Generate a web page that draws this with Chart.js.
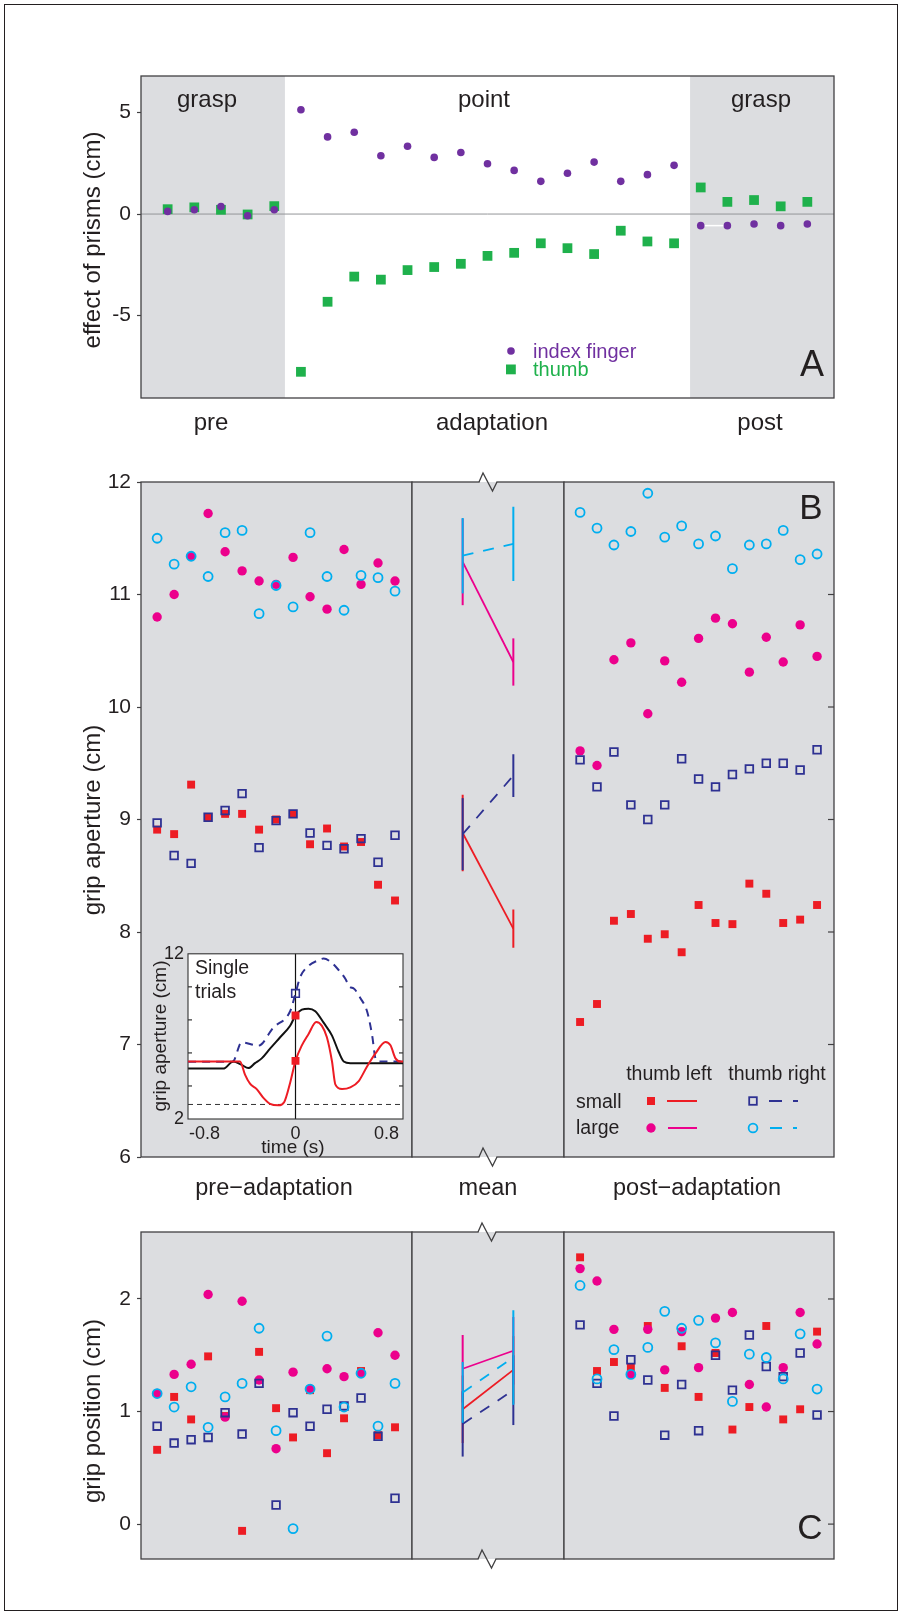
<!DOCTYPE html>
<html><head><meta charset="utf-8">
<script src="https://cdn.jsdelivr.net/npm/chart.js@4.4.1/dist/chart.umd.min.js"></script>
<style>
html,body{margin:0;padding:0;background:#fff;}
body{width:901px;height:1614px;position:relative;overflow:hidden;font-family:"Liberation Sans",Arial,Helvetica,sans-serif;color:#231f20;}
canvas{position:absolute;}
.t{position:absolute;white-space:nowrap;transform:translate(-50%,-50%);line-height:1;}
.tl{position:absolute;white-space:nowrap;transform:translate(0,-50%);line-height:1;}
svg{position:absolute;left:0;top:0;}
</style></head><body>
<script>
// ---------- DATA ----------
// Panel A: 5 pre (grasp), 15 adaptation (point), 5 post (grasp) trials
const aIndexFinger = [0.13,0.21,0.37,-0.08,0.21, 5.14,3.80,4.03,2.87,3.34,2.79,3.03,2.48,2.15,1.61,2.01,2.56,1.61,1.94,2.40, -0.57,-0.57,-0.49,-0.57,-0.49];
const aThumb = [0.24,0.33,0.21,-0.02,0.39, -7.77,-4.32,-3.08,-3.23,-2.76,-2.61,-2.45,-2.06,-1.91,-1.44,-1.68,-1.97,-0.82,-1.35,-1.44, 1.31,0.60,0.69,0.38,0.60];
const aTicks = [-5,0,5];

// Panel B: grip aperture (cm)
const bPreSmallLeft  = [8.91,8.87,9.31,9.02,9.05,9.05,8.91,9.00,9.05,8.78,8.92,8.76,8.80,8.42,8.28];
const bPreSmallRight = [8.97,8.68,8.61,9.02,9.08,9.23,8.75,8.99,9.05,8.88,8.77,8.74,8.83,8.62,8.86];
const bPreLargeLeft  = [10.80,11.00,11.34,11.72,11.38,11.21,11.12,11.09,11.33,10.98,10.87,11.40,11.09,11.28,11.12];
const bPreLargeRight = [11.50,11.27,11.34,11.16,11.55,11.57,10.83,11.08,10.89,11.55,11.16,10.86,11.17,11.15,11.03];
const bPostSmallLeft  = [7.20,7.36,8.10,8.16,7.94,7.98,7.82,8.24,8.08,8.07,8.43,8.34,8.08,8.11,8.24];
const bPostSmallRight = [9.53,9.29,9.60,9.13,9.00,9.13,9.54,9.36,9.29,9.40,9.45,9.50,9.50,9.44,9.62];
const bPostLargeLeft  = [9.61,9.48,10.42,10.57,9.94,10.41,10.22,10.61,10.79,10.74,10.31,10.62,10.40,10.73,10.45];
const bPostLargeRight = [11.73,11.59,11.44,11.56,11.90,11.51,11.61,11.45,11.52,11.23,11.44,11.45,11.57,11.31,11.36];
// means [pre, post] and error half-lengths
const bMeanSmallLeft  = [8.88, 8.03],   bErrSmallLeft  = [0.34, 0.17];
const bMeanSmallRight = [8.87, 9.39],   bErrSmallRight = [0.32, 0.19];
const bMeanLargeLeft  = [11.29, 10.40], bErrLargeLeft  = [0.385, 0.21];
const bMeanLargeRight = [11.345, 11.45],bErrLargeRight = [0.335, 0.33];
const bTicks = [6,7,8,9,10,11,12];

// Inset: single trials
const insetDashedT = [-0.944,-0.553,-0.474,-0.326,-0.194,-0.047,0,0.041,0.115,0.188,0.247,0.306,0.379,0.438,0.476,0.512,0.571,0.629,0.674,0.703,0.732,0.947];
const insetDashedV = [5.46,5.46,6.64,6.44,7.54,8.52,9.6,10.59,11.27,11.57,11.71,11.53,11.02,10.49,10.0,9.9,9.31,8.52,7.05,5.67,5.48,5.48];
const insetBlackT = [-0.944,-0.635,-0.547,-0.474,-0.415,-0.356,-0.297,-0.224,-0.135,-0.047,0,0.056,0.115,0.174,0.247,0.321,0.379,0.424,0.482,0.947];
const insetBlackV = [5.05,5.05,5.48,5.28,5.08,5.38,5.67,6.26,6.95,7.64,8.27,8.62,8.68,8.52,7.83,7.05,6.07,5.48,5.38,5.38];
const insetRedT = [-0.944,-0.488,-0.444,-0.4,-0.341,-0.282,-0.224,-0.15,-0.1,-0.047,0,0.056,0.115,0.182,0.232,0.276,0.321,0.35,0.409,0.482,0.556,0.629,0.703,0.791,0.835,0.879,0.924,0.947];
const insetRedV = [5.48,5.48,4.69,4.14,3.81,3.28,2.92,2.83,3.02,4.2,5.52,6.46,7.15,7.87,7.64,6.95,5.48,4.1,3.81,3.91,4.3,5.18,5.97,6.66,6.46,5.67,5.48,5.48];
const insetMarkRight = [9.6];
const insetMarkLeft = [8.27, 5.52];
const insetYTicks = [2,12];
const insetXTicks = [-0.8,0,0.8];

// Panel C: grip position (cm)
const cPreSmallLeft  = [0.66,1.13,0.93,1.49,0.96,-0.06,1.53,1.03,0.77,1.19,0.63,0.94,1.36,0.79,0.86];
const cPreSmallRight = [0.87,0.72,0.75,0.77,0.99,0.80,1.25,0.17,0.99,0.87,1.02,1.05,1.12,0.78,0.23];
const cPreLargeLeft  = [1.16,1.33,1.42,2.04,0.95,1.98,1.28,0.67,1.35,1.20,1.38,1.31,1.34,1.70,1.50];
const cPreLargeRight = [1.16,1.04,1.22,0.86,1.13,1.25,1.74,0.83,-0.04,1.20,1.67,1.04,1.34,0.87,1.25];
const cPostSmallLeft  = [2.37,1.36,1.44,1.39,1.76,1.21,1.58,1.13,1.52,0.84,1.04,1.76,0.93,1.02,1.71];
const cPostSmallRight = [1.77,1.25,0.96,1.46,1.28,0.79,1.24,0.83,1.50,1.19,1.68,1.40,1.31,1.52,0.97];
const cPostLargeLeft  = [2.27,2.16,1.73,1.33,1.73,1.37,1.71,1.39,1.83,1.88,1.24,1.04,1.39,1.88,1.60];
const cPostLargeRight = [2.12,1.29,1.55,1.33,1.57,1.89,1.74,1.81,1.61,1.09,1.51,1.48,1.29,1.69,1.20];
const cMeanSmallLeft  = [1.02, 1.37], cErrSmallLeft  = [0.30, 0.30];
const cMeanSmallRight = [0.89, 1.19], cErrSmallRight = [0.29, 0.31];
const cMeanLargeLeft  = [1.38, 1.54], cErrLargeLeft  = [0.30, 0.30];
const cMeanLargeRight = [1.17, 1.48], cErrLargeRight = [0.27, 0.42];
const cTicks = [0,1,2];

// ---------- STYLE ----------
const GRAY='#dcdde0', FRAME='#414042', TXT='#231f20';
const PURPLE='#7030a0', GREEN='#1fb14c', RED='#ed1c24', MAGENTA='#ec008c', CYAN='#00aeef', NAVY='#2e3192';
const FONT='"Liberation Sans", Arial, Helvetica, sans-serif';
Chart.defaults.font.family = FONT;
Chart.defaults.color = TXT;

const deco = {
  id:'deco',
  beforeDatasetsDraw(chart, args, o){
    const {ctx, chartArea:a, scales} = chart;
    ctx.save();
    (o.fills||[]).forEach(f=>{
      const x0 = f.x0==null ? a.left : scales.x.getPixelForValue(f.x0);
      const x1 = f.x1==null ? a.right : scales.x.getPixelForValue(f.x1);
      ctx.fillStyle=f.color; ctx.fillRect(x0,a.top,x1-x0,a.bottom-a.top);
    });
    (o.hlines||[]).forEach(h=>{
      const y=scales.y.getPixelForValue(h.y);
      ctx.beginPath(); ctx.setLineDash(h.dash||[]); ctx.strokeStyle=h.color; ctx.lineWidth=h.width;
      ctx.moveTo(a.left,y); ctx.lineTo(a.right,y); ctx.stroke();
    });
    (o.vlines||[]).forEach(h=>{
      const x=scales.x.getPixelForValue(h.x);
      ctx.beginPath(); ctx.setLineDash(h.dash||[]); ctx.strokeStyle=h.color; ctx.lineWidth=h.width;
      ctx.moveTo(x,a.top); ctx.lineTo(x,a.bottom); ctx.stroke();
    });
    ctx.setLineDash([]);
    if(o.frame){ ctx.strokeStyle=o.frame.color; ctx.lineWidth=o.frame.width; ctx.strokeRect(a.left,a.top,a.right-a.left,a.bottom-a.top); }
    const len=o.tickLen||6;
    ctx.strokeStyle=o.tickColor||FRAME; ctx.lineWidth=1.2;
    (o.ticksR||[]).forEach(v=>{const y=scales.y.getPixelForValue(v);ctx.beginPath();ctx.moveTo(a.right-len,y);ctx.lineTo(a.right,y);ctx.stroke();});
    (o.ticksL||[]).forEach(v=>{const y=scales.y.getPixelForValue(v);ctx.beginPath();ctx.moveTo(a.left,y);ctx.lineTo(a.left+len,y);ctx.stroke();});
    ctx.restore();
  }
};
Chart.register(deco);

function place(l,t,r,b,pad){
  const c=document.createElement('canvas');
  const w=Math.round(r-l+pad[0]+pad[2]), h=Math.round(b-t+pad[1]+pad[3]);
  c.width=w; c.height=h;
  c.style.left=(l-pad[0])+'px'; c.style.top=(t-pad[1])+'px';
  c.style.width=w+'px'; c.style.height=h+'px';
  document.body.appendChild(c);
  return c;
}
function yAxis(min,max,ticks,width,show,size,opts){
  opts=opts||{};
  return {type:'linear',min,max,display:show,
    afterFit:s=>{s.width=width;},
    afterBuildTicks:s=>{s.ticks=ticks.map(v=>({value:v}));},
    grid:{drawOnChartArea:false,drawTicks:opts.noTicks?false:true,tickLength:4,tickColor:FRAME,tickWidth:1.2},
    border:{display:false},
    ticks:{padding:opts.pad||6,font:{size},color:TXT}};
}
function xHidden(min,max){return {type:'linear',min,max,display:false};}
const xIdx=arr=>arr.map((v,i)=>({x:i,y:v}));
const baseOpts=(pad,scales,decoOpts)=>({
  responsive:false,animation:false,devicePixelRatio:1,events:[],
  layout:{padding:{left:pad[0],top:pad[1],right:pad[2],bottom:pad[3]}},
  plugins:{legend:{display:false},tooltip:{enabled:false},deco:decoOpts},
  scales});

function scatterSets(sl,sr,ll,lr){
  return [
    {data:xIdx(lr),pointStyle:'circle',pointRadius:4.5,pointBorderWidth:1.8,pointBorderColor:CYAN,pointBackgroundColor:'rgba(0,0,0,0)'},
    {data:xIdx(sr),pointStyle:'rect',pointRadius:5.4,pointBorderWidth:1.8,pointBorderColor:NAVY,pointBackgroundColor:'rgba(0,0,0,0)'},
    {data:xIdx(ll),pointStyle:'circle',pointRadius:4.7,pointBorderWidth:0,pointBackgroundColor:MAGENTA},
    {data:xIdx(sl),pointStyle:'rect',pointRadius:5.6,pointBorderWidth:0,pointBackgroundColor:RED}
  ];
}
function meanSets(mean,err,color,dash){
  const line={showLine:true,pointRadius:0,borderColor:color,borderWidth:1.8};
  return [
    Object.assign({data:[{x:1,y:mean[0]-err[0]},{x:1,y:mean[0]+err[0]}]},line,{borderWidth:2}),
    Object.assign({data:[{x:2,y:mean[1]-err[1]},{x:2,y:mean[1]+err[1]}]},line,{borderWidth:2}),
    Object.assign({data:[{x:1,y:mean[0]},{x:2,y:mean[1]}],borderDash:dash},line)
  ];
}

// ---------- PANEL A ----------
new Chart(place(141,76,834,398,[81,20,20,20]),{
  type:'scatter',
  data:{datasets:[
    {label:'index finger',data:xIdx(aIndexFinger),pointStyle:'circle',pointRadius:3.8,pointBorderWidth:0,pointBackgroundColor:PURPLE},
    {label:'link',data:xIdx(aIndexFinger).slice(20,22),showLine:true,pointRadius:0,borderColor:'#ffffff',borderWidth:1.5},
    {label:'thumb',data:xIdx(aThumb),pointStyle:'rect',pointRadius:6.9,pointBorderWidth:0,pointBackgroundColor:GREEN}
  ]},
  options:baseOpts([0,20,20,20],{x:xHidden(-1,25),y:yAxis(-9.06,6.8,aTicks,81,true,21)},
    {fills:[{x0:null,x1:4.4,color:GRAY},{x0:19.6,x1:null,color:GRAY}],hlines:[{y:0,color:'#939598',width:1}],frame:{color:FRAME,width:1.3}})
});

// ---------- PANEL B ----------
const BT=482, BB=1157;
new Chart(place(141,BT,412,BB,[81,20,10,20]),{
  type:'scatter',
  data:{datasets:scatterSets(bPreSmallLeft,bPreSmallRight,bPreLargeLeft,bPreLargeRight)},
  options:baseOpts([0,20,10,20],{x:xHidden(-0.95,15),y:yAxis(6,12,bTicks,81,true,21)},
    {fills:[{color:GRAY}],frame:{color:FRAME,width:1.3}})
});
new Chart(place(412,BT,564,BB,[10,20,10,20]),{
  type:'scatter',
  data:{datasets:[].concat(
    meanSets(bMeanLargeRight,bErrLargeRight,CYAN,[11,10]),
    meanSets(bMeanSmallRight,bErrSmallRight,NAVY,[11,10]),
    meanSets(bMeanLargeLeft,bErrLargeLeft,MAGENTA,[]),
    meanSets(bMeanSmallLeft,bErrSmallLeft,RED,[]))},
  options:baseOpts([10,20,10,20],{x:xHidden(0,3),y:{type:'linear',min:6,max:12,display:false}},
    {fills:[{color:GRAY}],frame:{color:FRAME,width:1.3}})
});
new Chart(place(564,BT,834,BB,[10,20,20,20]),{
  type:'scatter',
  data:{datasets:scatterSets(bPostSmallLeft,bPostSmallRight,bPostLargeLeft,bPostLargeRight)},
  options:baseOpts([10,20,20,20],{x:xHidden(-0.95,15),y:{type:'linear',min:6,max:12,display:false}},
    {fills:[{color:GRAY}],frame:{color:FRAME,width:1.3},ticksR:[7,8,9,10,11],tickLen:6})
});

// ---------- INSET ----------
const pts=(t,v)=>t.map((x,i)=>({x,y:v[i]}));
new Chart(place(188,949,403,1119,[40,10,10,30]),{
  type:'scatter',
  data:{datasets:[
    {data:insetMarkRight.map(v=>({x:0,y:v})),pointStyle:'rect',pointRadius:5.4,pointBorderWidth:1.6,pointBorderColor:NAVY,pointBackgroundColor:'rgba(0,0,0,0)'},
    {data:insetMarkLeft.map(v=>({x:0,y:v})),pointStyle:'rect',pointRadius:5.6,pointBorderWidth:0,pointBackgroundColor:RED},
    {data:pts(insetRedT,insetRedV),showLine:true,pointRadius:0,borderColor:RED,borderWidth:2,cubicInterpolationMode:'monotone'},
    {data:pts(insetBlackT,insetBlackV),showLine:true,pointRadius:0,borderColor:'#111',borderWidth:2,cubicInterpolationMode:'monotone'},
    {data:pts(insetDashedT,insetDashedV),showLine:true,pointRadius:0,borderColor:NAVY,borderWidth:2,borderDash:[8,6],cubicInterpolationMode:'monotone'}
  ]},
  options:baseOpts([0,10,10,0],{
    x:{type:'linear',min:-0.945,max:0.945,display:true,
       afterFit:s=>{s.height=30;},
       afterBuildTicks:s=>{s.ticks=insetXTicks.map(v=>({value:v}));},
       grid:{drawOnChartArea:false,drawTicks:false},border:{display:false},
       ticks:{padding:4,font:{size:18},color:TXT}},
    y:yAxis(2,12,insetYTicks,40,true,18,{noTicks:true,pad:4})},
    {fills:[{color:'#ffffff'}],hlines:[{y:2.88,color:'#333',width:1,dash:[5,4]}],vlines:[{x:0,color:'#111',width:1.2}],
     frame:{color:'#333',width:1.1},ticksR:[4,6,8,10],ticksL:[4,6,8,10],tickLen:4,tickColor:'#333'})
});

// ---------- PANEL C ----------
const CT=1232, CB=1559;
new Chart(place(141,CT,412,CB,[81,20,10,20]),{
  type:'scatter',
  data:{datasets:scatterSets(cPreSmallLeft,cPreSmallRight,cPreLargeLeft,cPreLargeRight)},
  options:baseOpts([0,20,10,20],{x:xHidden(-0.95,15),y:yAxis(-0.31,2.595,cTicks,81,true,21)},
    {fills:[{color:GRAY}],frame:{color:FRAME,width:1.3}})
});
new Chart(place(412,CT,564,CB,[10,20,10,20]),{
  type:'scatter',
  data:{datasets:[].concat(
    meanSets(cMeanLargeRight,cErrLargeRight,CYAN,[11,10]),
    meanSets(cMeanSmallRight,cErrSmallRight,NAVY,[11,10]),
    meanSets(cMeanLargeLeft,cErrLargeLeft,MAGENTA,[]),
    meanSets(cMeanSmallLeft,cErrSmallLeft,RED,[]))},
  options:baseOpts([10,20,10,20],{x:xHidden(0,3),y:{type:'linear',min:-0.31,max:2.595,display:false}},
    {fills:[{color:GRAY}],frame:{color:FRAME,width:1.3}})
});
new Chart(place(564,CT,834,CB,[10,20,20,20]),{
  type:'scatter',
  data:{datasets:scatterSets(cPostSmallLeft,cPostSmallRight,cPostLargeLeft,cPostLargeRight)},
  options:baseOpts([10,20,20,20],{x:xHidden(-0.95,15),y:{type:'linear',min:-0.31,max:2.595,display:false}},
    {fills:[{color:GRAY}],frame:{color:FRAME,width:1.3},ticksR:[0,1,2],tickLen:6})
});

// ---------- OVERLAY (frame, breaks, legends) ----------
const NS='http://www.w3.org/2000/svg';
const svg=document.createElementNS(NS,'svg');
svg.setAttribute('width','901'); svg.setAttribute('height','1614');
document.body.appendChild(svg);
function el(tag,attrs){const e=document.createElementNS(NS,tag);for(const k in attrs)e.setAttribute(k,attrs[k]);svg.appendChild(e);return e;}
el('rect',{x:4.5,y:4.5,width:893,height:1606,fill:'none',stroke:'#231f20','stroke-width':1});
function brk(x0,y){
  el('rect',{x:x0+0.6,y:y-1.2,width:16.8,height:1.2,fill:'#fff'});
  el('rect',{x:x0+0.6,y:y,width:16.8,height:1.0,fill:GRAY});
  el('polyline',{points:`${x0},${y} ${x0+4},${y-9} ${x0+13.5},${y+9} ${x0+18},${y}`,fill:'none',stroke:FRAME,'stroke-width':1.3});
}
function brkB(x0,y){
  el('rect',{x:x0+0.6,y:y,width:16.8,height:1.2,fill:'#fff'});
  el('rect',{x:x0+0.6,y:y-1.0,width:16.8,height:1.0,fill:GRAY});
  el('polyline',{points:`${x0},${y} ${x0+4},${y-9} ${x0+13.5},${y+9} ${x0+18},${y}`,fill:'none',stroke:FRAME,'stroke-width':1.3});
}
brk(479,BT); brkB(479,BB); brk(478,CT); brkB(478,CB);
// legend A markers
el('circle',{cx:511,cy:351,r:3.8,fill:PURPLE});
el('rect',{x:506,y:364.5,width:9.8,height:9.8,fill:GREEN});
// legend B markers
el('rect',{x:647,y:1097,width:8,height:8,fill:RED});
el('line',{x1:667,y1:1101,x2:697,y2:1101,stroke:RED,'stroke-width':2});
el('rect',{x:749.2,y:1097.2,width:7.6,height:7.6,fill:'none',stroke:NAVY,'stroke-width':1.8});
el('line',{x1:769,y1:1101,x2:782,y2:1101,stroke:NAVY,'stroke-width':2});
el('line',{x1:793,y1:1101,x2:798,y2:1101,stroke:NAVY,'stroke-width':2});
el('circle',{cx:651,cy:1128,r:4.7,fill:MAGENTA});
el('line',{x1:668,y1:1128,x2:697,y2:1128,stroke:MAGENTA,'stroke-width':2});
el('circle',{cx:753,cy:1128,r:4.4,fill:'none',stroke:CYAN,'stroke-width':1.8});
el('line',{x1:770,y1:1128,x2:782,y2:1128,stroke:CYAN,'stroke-width':2});
el('line',{x1:793,y1:1128,x2:797,y2:1128,stroke:CYAN,'stroke-width':2});

// ---------- TEXT ----------
function txt(s,x,y,size,opts){
  opts=opts||{};
  const d=document.createElement('div');
  d.className=opts.left?'tl':'t';
  d.textContent=s;
  d.style.left=x+'px'; d.style.top=y+'px'; d.style.fontSize=size+'px';
  if(opts.color)d.style.color=opts.color;
  if(opts.rot)d.style.transform='translate(-50%,-50%) rotate(-90deg)';
  document.body.appendChild(d);
}
txt('grasp',207,99,24); txt('point',484,99,24); txt('grasp',761,99,24);
txt('pre',211,422,24); txt('adaptation',492,422,24); txt('post',760,422,24);
txt('effect of prisms (cm)',92,240,24,{rot:true});
txt('index finger',533,351,20,{left:true,color:PURPLE});
txt('thumb',533,369,20,{left:true,color:GREEN});
txt('A',812,364,36);
txt('grip aperture (cm)',92,820,24,{rot:true});
txt('B',811,506,35);
txt('pre\u2212adaptation',274,1188,23.5); txt('mean',488,1188,23.5); txt('post\u2212adaptation',697,1188,23.5);
txt('thumb left',669,1074,19.5); txt('thumb right',777,1074,19.5);
txt('small',576,1102,19.5,{left:true}); txt('large',576,1128,19.5,{left:true});
txt('Single',195,968,19.5,{left:true}); txt('trials',195,992,19.5,{left:true});
txt('grip aperture (cm)',159,1036,19,{rot:true});
txt('time (s)',293,1146,19);
txt('grip position (cm)',92,1411,24,{rot:true});
txt('C',810,1526,35);
</script>
</body></html>
